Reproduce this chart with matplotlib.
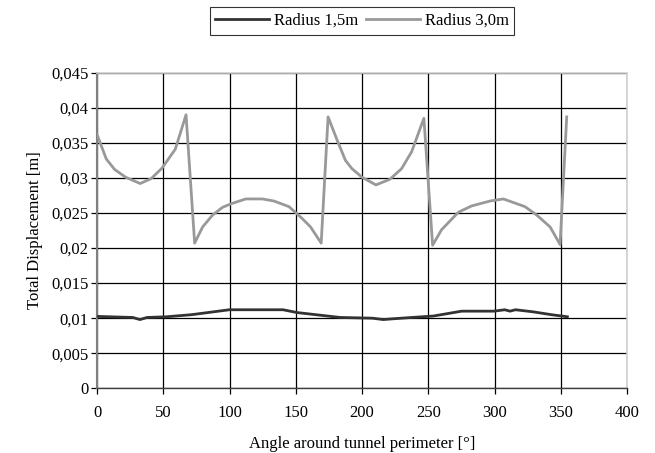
import matplotlib
matplotlib.use("Agg")
import matplotlib.pyplot as plt
from matplotlib.ticker import FuncFormatter, MultipleLocator

plt.rcParams['font.family'] = ['Liberation Serif', 'DejaVu Serif']

# Radius 1,5m
angle_r15 = [0, 27, 32.4, 37.8, 52.6, 71.5, 99.9, 140.4, 151, 183.5, 207.8, 216,
             222.7, 237.5, 253.7, 275.3, 299.6, 307.7, 311.7, 315.8, 329.3, 342.8, 355]
disp_r15 = [0.01025, 0.0101, 0.0098, 0.0101, 0.0102, 0.0105, 0.0112, 0.0112, 0.0108,
            0.0101, 0.0100, 0.0098, 0.0099, 0.0101, 0.0103, 0.0110, 0.0110, 0.0112,
            0.0110, 0.0112, 0.0109, 0.0105, 0.0102]

# Radius 3,0m
angle_r30 = [0, 7.0, 13.3, 21.6, 32.6, 40.9, 49.1, 59.1, 67.2, 73.7, 79.7, 87.2, 94.7,
             101, 112.3, 124.8, 133.6, 144.9, 154.9, 161.2, 169.2, 174.4, 181.2, 187.5,
             192.5, 200, 210.5, 221, 229.8, 237.4, 246.7, 253.3, 260, 272.7, 282.7,
             296.6, 306.7, 323, 331.9, 342, 349.5, 354.5]
disp_r30 = [0.0362, 0.0327, 0.0312, 0.0301, 0.0292, 0.0299, 0.0314, 0.0341, 0.0390,
            0.0207, 0.0230, 0.0247, 0.0258, 0.0263, 0.0270, 0.0270, 0.0267, 0.0259,
            0.0242, 0.0230, 0.0207, 0.0387, 0.0354, 0.0325, 0.0313, 0.0301, 0.0290,
            0.0298, 0.0313, 0.0337, 0.0385, 0.0204, 0.0226, 0.0251, 0.0260, 0.0267,
            0.0270, 0.0259, 0.0247, 0.0230, 0.0205, 0.0387]

fig = plt.figure(figsize=(6.55, 4.53), dpi=100)
ax = fig.add_axes([97 / 655, 1 - 388.3 / 453, 530 / 655, 315.6 / 453])

ax.plot(angle_r15, disp_r15, color='#333333', lw=2.0, label='Radius 1,5m', zorder=3)
ax.plot(angle_r30, disp_r30, color='#999999', lw=2.0, label='Radius 3,0m', zorder=3)

ax.set_xlim(0, 400)
ax.set_ylim(0, 0.045)
ax.xaxis.set_major_locator(MultipleLocator(50))
ax.yaxis.set_major_locator(MultipleLocator(0.005))
ax.yaxis.set_major_formatter(FuncFormatter(
    lambda v, p: '0' if abs(v) < 1e-9 else f'{v:.3f}'.rstrip('0').replace('.', ',')))

ax.grid(True, color='black', lw=0.9)
ax.set_axisbelow(True)
for side in ['top', 'right']:
    ax.spines[side].set_color('#d0d0d0')
    ax.spines[side].set_linewidth(1.2)
ax.spines['left'].set_color('#808080')
ax.spines['left'].set_linewidth(1.5)
ax.spines['bottom'].set_color('#404040')
ax.spines['bottom'].set_linewidth(1.0)

ax.tick_params(axis='both', labelsize=12, direction='out', length=4, width=0.9,
               color='black')
ax.tick_params(axis='x', pad=8)
ax.tick_params(axis='y', pad=2)

ax.set_xlabel('Angle around tunnel perimeter [°]', fontsize=12, labelpad=11)
ax.set_ylabel('Total Displacement [m]', fontsize=12, labelpad=6)

leg = fig.legend(loc='center', bbox_to_anchor=(362 / 655, 1 - 21 / 453), ncol=2,
                 fontsize=12, frameon=True, fancybox=False, handlelength=3.2,
                 handletextpad=0.3, columnspacing=0.5, borderpad=0.35)
leg.get_frame().set_edgecolor('black')
leg.get_frame().set_linewidth(0.8)

fig.savefig('out.png', dpi=100)
